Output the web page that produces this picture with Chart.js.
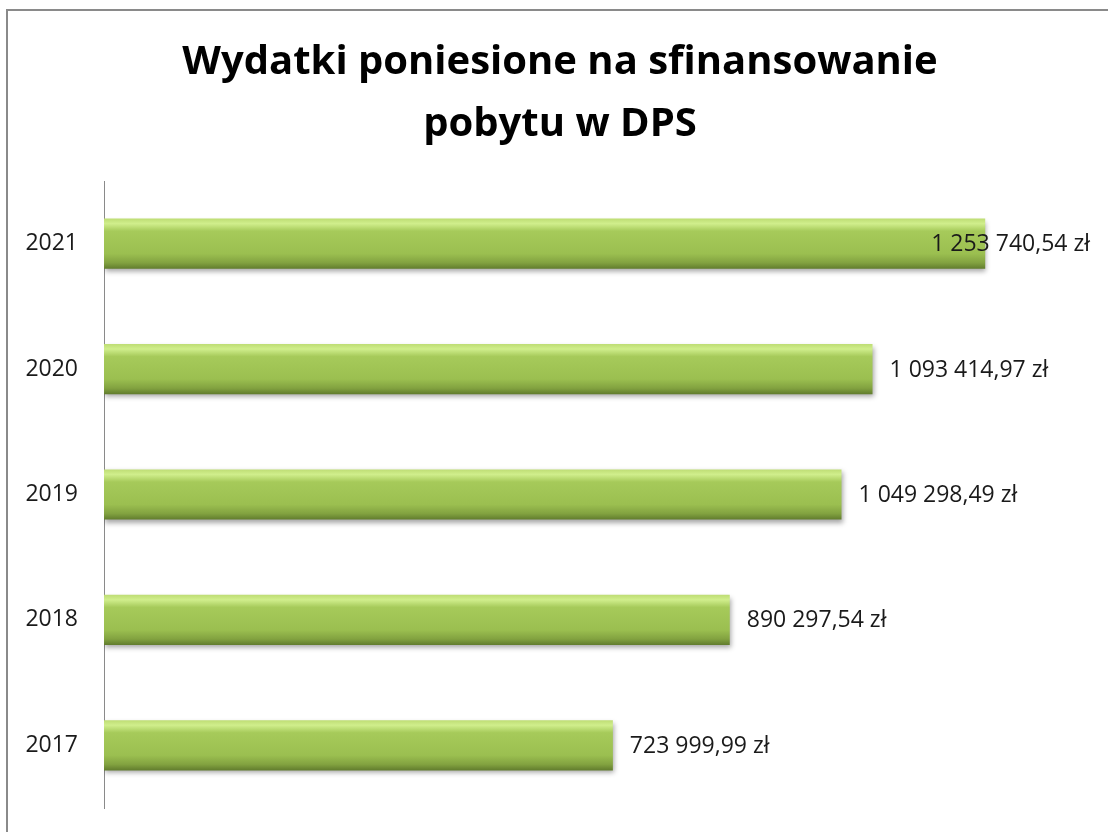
<!DOCTYPE html>
<html>
<head>
<meta charset="utf-8">
<script src="https://cdn.jsdelivr.net/npm/chart.js@4.4.0/dist/chart.umd.min.js"></script>
<style>
  html, body { margin: 0; padding: 0; background: #fff; overflow: hidden; }
  #frame { position: absolute; left: 6px; top: 9px; width: 1200px; height: 900px; border: 2px solid #8a8a8a; }
  #wrap { position: absolute; left: 0; top: 0; width: 1108px; height: 832px; }
  #chart { display: block; }
</style>
</head>
<body>
<div id="frame"></div>
<div id="wrap"><canvas id="chart"></canvas></div>
<script>
var years = ['2021', '2020', '2019', '2018', '2017'];
var expenses = [1253740.54, 1093414.97, 1049298.49, 890297.54, 723999.99];
var titleLines = ['Wydatki poniesione na sfinansowanie', 'pobytu w DPS'];

function formatPln(v) {
    var parts = v.toFixed(2).split('.');
    var whole = parts[0].replace(/\B(?=(\d{3})+(?!\d))/g, ' ');
    return whole + ',' + parts[1] + ' zł';
}

function barFill(context) {
    var chart = context.chart;
    var area = chart.chartArea;
    if (!area) return '#9bbb59';
    var yc = chart.scales.y.getPixelForValue(context.dataIndex);
    var h = area.height / years.length * 0.4;
    var g = chart.ctx.createLinearGradient(0, yc - h / 2, 0, yc + h / 2);
    g.addColorStop(0, '#bedd74');
    g.addColorStop(0.1, '#d0ee8c');
    g.addColorStop(0.25, '#a6ca5a');
    g.addColorStop(0.7, '#9bbf50');
    g.addColorStop(0.88, '#82a240');
    g.addColorStop(1, '#617c2d');
    return g;
}

var barShadow = {
    id: 'barShadow',
    beforeDatasetsDraw: function(chart) {
        var c = chart.ctx;
        c.save();
        c.shadowColor = 'rgba(0,0,0,0.35)';
        c.shadowBlur = 5;
        c.shadowOffsetX = 1;
        c.shadowOffsetY = 3;
    },
    afterDatasetsDraw: function(chart) {
        chart.ctx.restore();
    }
};

var valueLabels = {
    id: 'valueLabels',
    afterDatasetsDraw: function(chart) {
        var c = chart.ctx;
        var meta = chart.getDatasetMeta(0);
        c.save();
        c.font = '23px "Open Sans"';
        c.fillStyle = '#1a1a1a';
        c.textBaseline = 'middle';
        c.textAlign = 'left';
        meta.data.forEach(function(bar, i) {
            var text = formatPln(expenses[i]);
            var w = c.measureText(text).width;
            var x = bar.x + 17;
            if (x + w > chart.width - 18) x = chart.width - 18 - w;
            c.fillText(text, x, bar.y + 1);
        });
        c.restore();
    }
};

// title drawn by hand so it can sit centred on the whole frame
var chartTitle = {
    id: 'chartTitle',
    afterDraw: function(chart) {
        var c = chart.ctx;
        c.save();
        c.font = 'bold 40px "Open Sans"';
        c.fillStyle = '#000';
        c.textAlign = 'center';
        c.textBaseline = 'middle';
        c.fillText(titleLines[0], 560, 63);
        c.fillText(titleLines[1], 560, 125);
        c.restore();
    }
};

var ctx = document.getElementById('chart').getContext('2d');
var chart = new Chart(ctx, {
    type: 'bar',
    data: {
        labels: years,
        datasets: [{
            data: expenses,
            backgroundColor: barFill,
            borderWidth: 0,
            categoryPercentage: 0.5,
            barPercentage: 0.8
        }]
    },
    options: {
        indexAxis: 'y',
        responsive: true,
        maintainAspectRatio: false,
        animation: false,
        layout: { padding: { left: 0, right: 20, top: 181, bottom: 24 } },
        plugins: {
            legend: { display: false },
            tooltip: { enabled: false },
            title: { display: false }
        },
        scales: {
            x: { display: false, min: 0, max: 1400000 },
            y: {
                afterFit: function(scale) {
                    scale.width = 104;
                    scale.paddingTop = 0;
                    scale.paddingBottom = 0;
                },
                grid: { display: false, drawTicks: false },
                border: { display: true, color: '#8a8a8a', width: 1 },
                ticks: {
                    color: '#1a1a1a',
                    padding: 26,
                    font: { family: '"Open Sans"', size: 23 }
                }
            }
        }
    },
    plugins: [barShadow, valueLabels, chartTitle]
});
</script>
</body>
</html>
